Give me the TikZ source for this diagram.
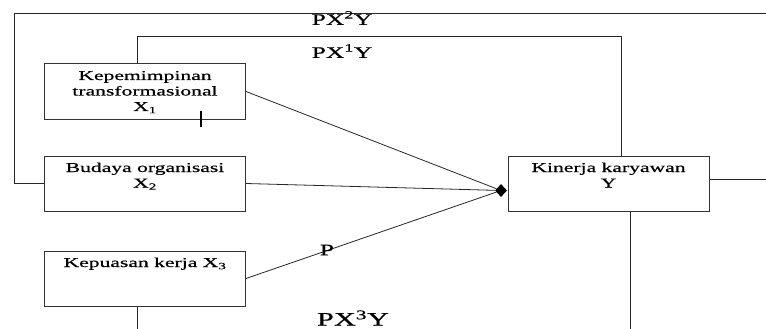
\documentclass[tikz,border=0pt]{standalone}
\usepackage{fontspec}
\usetikzlibrary{shapes.geometric}
\newfontfamily\diagfont[FakeStretch=1.6,FakeBold=0.6]{Liberation Serif}
\newcommand{\toplines}[1]{\parbox[c][55pt][t]{201pt}{\centering\fontsize{13.5}{15.5}\selectfont\rule{0pt}{16pt}#1}}

\begin{document}
\begin{tikzpicture}[x=1pt, y=-1pt, font=\diagfont,
    varbox/.style={draw=black!80, line width=1pt, inner sep=0pt},
    link/.style={draw=black!85, line width=0.8pt},
    pathlabel/.style={font=\diagfont\fontsize{16}{18}\selectfont}]
  \useasboundingbox (0,0) rectangle (766,329);
  % variables
  \node[varbox] (x1) at (145,91.5) {\toplines{Kepemimpinan\\ transformasional\\ X\textsubscript{1}}};
  \node[varbox] (x2) at (145,183.5) {\toplines{Budaya organisasi\\ X\textsubscript{2}}};
  \node[varbox] (x3) at (145,278.5) {\toplines{Kepuasan kerja X\textsubscript{3}}};
  \node[varbox] (ky) at (608.5,183.5) {\toplines{Kinerja karyawan\\ Y}};
  \node[diamond, fill=black, inner sep=0pt, minimum width=12pt, minimum height=13pt] (hub) at (501,190.5) {};
  % free ends at the picture's edge
  \coordinate (topend) at (766,13);
  \coordinate (rightend) at (766,179);
  % paths
  \draw[link] (x1.east) -- (hub);
  \draw[link] (x2.east) -- (hub);
  \draw[link] (x3.east) -- (hub);
  \draw[link] (x2.west) -| (14,13) -- (topend);
  \draw[link] ([xshift=93pt]x1.north west) -- ++(0,-27) -| ([xshift=114pt]ky.north west);
  \draw[link] ([yshift=4.5pt]ky.east) -- (rightend);
  \draw[link] ([xshift=123pt]ky.south west) -- ++(0,118);
  \draw[link] ([xshift=93pt]x3.south west) -- ++(0,23);
  \draw[line width=2.2pt] ([xshift=157pt,yshift=9pt]x1.south west) -- ++(0,16);
  % labels
  \node[pathlabel] (px2) at (342,18) {PX\textsuperscript{2}Y};
  \node[pathlabel] (px1) at (342,51) {PX\textsuperscript{1}Y};
  \node[pathlabel] (p) at (327,250) {P};
  \node[pathlabel, font=\diagfont\fontsize{19}{21}\selectfont] (px3) at (353,318) {PX\textsuperscript{3}Y};
\end{tikzpicture}
\end{document}
